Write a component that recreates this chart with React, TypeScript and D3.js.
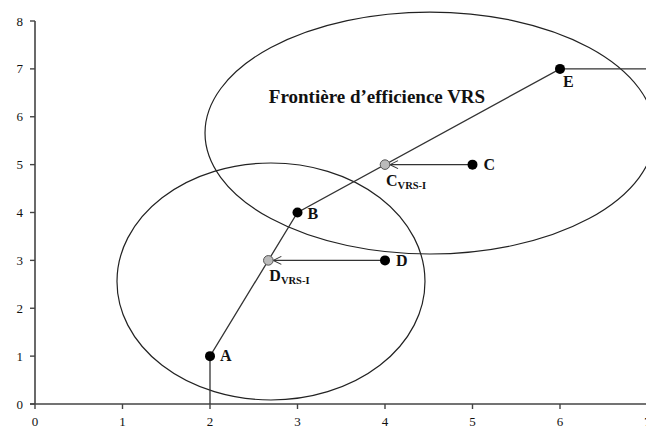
import React from "react";
import * as d3 from "d3";

const W = 646;
const H = 430;

// data
const xTicks = [0, 1, 2, 3, 4, 5, 6, 7];
const yTicks = [0, 1, 2, 3, 4, 5, 6, 7, 8];
const efficientNames = ["A", "B", "E"];
const efficientX = [2, 3, 6];
const efficientY = [1, 4, 7];
const inefficientNames = ["C", "D"];
const inefficientX = [5, 4];
const inefficientY = [5, 3];
const projNames = ["C", "D"];
const projX = [4, 2 + 2 / 3];
const projY = [5, 3];
const frontierX = [2, 2, 3, 6, 7.2];
const frontierY = [0, 1, 4, 7, 7];
// ellipses: cx, cy, rx, ry (data units)
const ellipseCx = [4.514, 2.697];
const ellipseCy = [5.66, 2.559];
const ellipseRx = [2.571, 1.76];
const ellipseRy = [2.527, 2.475];
const titleText = "Frontière d\u2019efficience VRS";

export default function App() {
  const x = d3.scaleLinear().domain([0, 7]).range([35, 647.5]);
  const y = d3.scaleLinear().domain([0, 8]).range([404, 21]);
  const line = d3
    .line<number>()
    .x((i) => x(frontierX[i]))
    .y((i) => y(frontierY[i]));
  const serif = "'Liberation Serif', 'DejaVu Serif', serif";
  const labelOffsets: Record<string, [number, number, string]> = {
    A: [10, 5, "start"],
    B: [10, 6, "start"],
    E: [3, 18, "start"],
    C: [11, 5, "start"],
    D: [11, 6, "start"],
  };
  return (
    <svg
      width={W}
      height={H}
      style={{ position: "absolute", left: 0, top: 0, background: "#fff" }}
      fontFamily={serif}
    >
      <rect x={0} y={0} width={W} height={H} fill="#fff" />
      {/* axes */}
      <line x1={x(0)} x2={x(0)} y1={y(8)} y2={y(0)} stroke="#444" strokeWidth={1.6} />
      <line x1={x(0) - 5} x2={W} y1={y(0)} y2={y(0)} stroke="#444" strokeWidth={1.6} />
      {yTicks.map((t) => (
        <g key={"y" + t}>
          <line x1={x(0) - 5} x2={x(0)} y1={y(t)} y2={y(t)} stroke="#444" strokeWidth={1.4} />
          <text x={x(0) - 12} y={y(t)} dy="0.35em" textAnchor="end" fontSize={13} fill="#111">
            {t}
          </text>
        </g>
      ))}
      {xTicks.map((t) => (
        <g key={"x" + t}>
          <line x1={x(t)} x2={x(t)} y1={y(0)} y2={y(0) + 5} stroke="#444" strokeWidth={1.4} />
          <text x={x(t)} y={y(0) + 22} textAnchor="middle" fontSize={13} fill="#111">
            {t}
          </text>
        </g>
      ))}
      {/* ellipses */}
      {ellipseCx.map((cx, i) => (
        <ellipse
          key={"e" + i}
          cx={x(cx)}
          cy={y(ellipseCy[i])}
          rx={x(ellipseRx[i]) - x(0)}
          ry={y(0) - y(ellipseRy[i])}
          fill="none"
          stroke="#222"
          strokeWidth={1.2}
        />
      ))}
      {/* frontier */}
      <path
        d={line(d3.range(frontierX.length)) || ""}
        fill="none"
        stroke="#333"
        strokeWidth={1.3}
      />
      {/* arrows */}
      {inefficientX.map((ix, i) => {
        const x1 = x(ix);
        const y1 = y(inefficientY[i]);
        const tx = x(projX[i]) + 5;
        const ty = y(projY[i]);
        return (
          <g key={"a" + i}>
            <line x1={x1} x2={tx} y1={y1} y2={ty} stroke="#333" strokeWidth={1.1} />
            <path
              d={`M${tx + 8},${ty - 4} L${tx},${ty} L${tx + 8},${ty + 4}`}
              fill="none"
              stroke="#333"
              strokeWidth={1.1}
            />
          </g>
        );
      })}
      {/* projected points */}
      {projX.map((px, i) => (
        <g key={"p" + i}>
          <circle cx={x(px)} cy={y(projY[i])} r={4.8} fill="#bbb" stroke="#555" strokeWidth={1} />
          <text
            x={x(px) + 1}
            y={y(projY[i]) + 21}
            fontSize={16}
            fontWeight="bold"
            fill="#111"
          >
            {projNames[i]}
            <tspan fontSize={10.5} dy={3}>
              VRS-I
            </tspan>
          </text>
        </g>
      ))}
      {/* efficient points */}
      {efficientX.map((ex, i) => {
        const o = labelOffsets[efficientNames[i]];
        return (
          <g key={"f" + i}>
            <circle cx={x(ex)} cy={y(efficientY[i])} r={5} fill="#000" />
            <text
              x={x(ex) + o[0]}
              y={y(efficientY[i]) + o[1]}
              fontSize={16}
              fontWeight="bold"
              fill="#111"
            >
              {efficientNames[i]}
            </text>
          </g>
        );
      })}
      {/* inefficient points */}
      {inefficientX.map((ix, i) => {
        const o = labelOffsets[inefficientNames[i]];
        return (
          <g key={"i" + i}>
            <circle cx={x(ix)} cy={y(inefficientY[i])} r={5} fill="#000" />
            <text
              x={x(ix) + o[0]}
              y={y(inefficientY[i]) + o[1]}
              fontSize={16}
              fontWeight="bold"
              fill="#111"
            >
              {inefficientNames[i]}
            </text>
          </g>
        );
      })}
      <text x={377} y={103} textAnchor="middle" fontSize={19} fontWeight="bold" fill="#111">
        {titleText}
      </text>
    </svg>
  );
}
